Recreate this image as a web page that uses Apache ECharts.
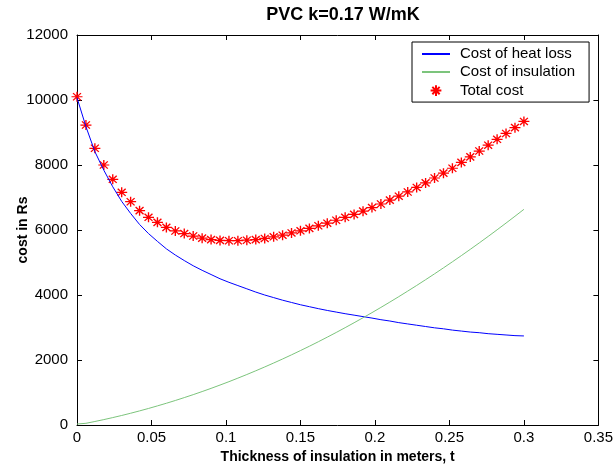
<!DOCTYPE html>
<html>
<head>
<meta charset="utf-8">
<script src="https://cdn.jsdelivr.net/npm/echarts@6/dist/echarts.min.js"></script>
<style>
html,body{margin:0;padding:0;background:#fff;}
#c{width:616px;height:470px;}
</style>
</head>
<body>
<div id="c"></div>
<script>
var thickness = [0, 0.006, 0.012, 0.018, 0.024, 0.03, 0.036, 0.042, 0.048, 0.054, 0.06, 0.066, 0.072, 0.078, 0.084, 0.09, 0.096, 0.102, 0.108, 0.114, 0.12, 0.126, 0.132, 0.138, 0.144, 0.15, 0.156, 0.162, 0.168, 0.174, 0.18, 0.186, 0.192, 0.198, 0.204, 0.21, 0.216, 0.222, 0.228, 0.234, 0.24, 0.246, 0.252, 0.258, 0.264, 0.27, 0.276, 0.282, 0.288, 0.294, 0.3];
var heatLoss = [10070, 9180, 8410, 7840, 7330, 6880, 6510, 6170, 5890, 5650, 5420, 5230, 5060, 4900, 4760, 4630, 4500, 4390, 4290, 4190, 4090, 4000, 3920, 3840, 3770, 3700, 3640, 3580, 3525, 3475, 3425, 3380, 3335, 3290, 3240, 3200, 3150, 3110, 3070, 3030, 2990, 2960, 2920, 2890, 2860, 2840, 2810, 2790, 2770, 2750, 2740];
var insulation = [30, 52, 108, 166, 228, 293, 362, 434, 509, 588, 669, 754, 843, 934, 1029, 1127, 1229, 1333, 1442, 1553, 1668, 1786, 1907, 2031, 2159, 2290, 2424, 2562, 2703, 2847, 2995, 3146, 3300, 3457, 3618, 3782, 3949, 4120, 4293, 4471, 4651, 4835, 5022, 5212, 5405, 5602, 5802, 6006, 6213, 6423, 6636];
var totalCost = [10100, 9230, 8515, 8000, 7560, 7160, 6870, 6595, 6390, 6235, 6080, 5970, 5890, 5815, 5750, 5705, 5680, 5670, 5670, 5685, 5705, 5740, 5790, 5840, 5910, 5975, 6050, 6130, 6210, 6300, 6390, 6480, 6580, 6690, 6800, 6920, 7040, 7170, 7310, 7450, 7600, 7750, 7900, 8080, 8250, 8430, 8610, 8790, 8970, 9150, 9340];
var xTicks = [0, 0.05, 0.1, 0.15, 0.2, 0.25, 0.3, 0.35];
var yTicks = [0, 2000, 4000, 6000, 8000, 10000, 12000];
var seriesNames = ['Cost of heat loss', 'Cost of insulation', 'Total cost'];

function pairs(xs, ys) { return xs.map(function (x, i) { return [x, ys[i]]; }); }
var FONT = '"Liberation Sans", Arial, sans-serif';
var star = 'path://M5,0L5,10M0,5L10,5M1.4,1.4L8.6,8.6M1.4,8.6L8.6,1.4';
var starLegend = 'path://M-8,-2L-8,-2M18,12L18,12M5,0L5,10M0,5L10,5M1.6,1.6L8.4,8.4M1.6,8.4L8.4,1.6';

var chart = echarts.init(document.getElementById('c'), null, {renderer: 'canvas'});
var axisCommon = {
  type: 'value',
  axisLine: {show: true, onZero: false, lineStyle: {color: '#000', width: 1}},
  axisTick: {show: true, inside: true, length: 5, lineStyle: {color: '#000'}},
  splitLine: {show: false}
};
chart.setOption({
  animation: false,
  backgroundColor: '#fff',
  title: {
    text: 'PVC k=0.17 W/mK',
    left: 338, top: 1, textAlign: 'center',
    textStyle: {fontFamily: FONT, fontWeight: 'bold', fontSize: 18, color: '#000'}
  },
  legend: {
    orient: 'vertical',
    left: 412, top: 42,
    padding: [4, 14, 3, 9],
    itemWidth: 28, itemHeight: 16, itemGap: 2,
    backgroundColor: '#fff',
    borderColor: '#000', borderWidth: 1, borderRadius: 0,
    data: [
      {name: seriesNames[0], itemStyle: {opacity: 0}},
      {name: seriesNames[1], itemStyle: {opacity: 0}},
      {name: seriesNames[2], icon: starLegend}
    ],
    textStyle: {fontFamily: FONT, fontSize: 15, color: '#000', lineHeight: 16, padding: [0, 0, 0, 5]}
  },
  grid: {left: 77, right: 17, top: 35, bottom: 45, containLabel: false},
  xAxis: [
    Object.assign({}, axisCommon, {
      position: 'bottom', min: xTicks[0], max: xTicks[xTicks.length - 1], interval: 0.05,
      name: 'Thickness of insulation in meters, t', nameLocation: 'middle', nameGap: 25,
      nameMoveOverlap: false,
      nameTextStyle: {fontFamily: FONT, fontWeight: 'bold', fontSize: 14, color: '#000'},
      axisLabel: {fontFamily: FONT, fontSize: 15, color: '#000', margin: 5,
        formatter: function (v) { return String(+v.toFixed(2)); }}
    }),
    Object.assign({}, axisCommon, {
      position: 'top', min: xTicks[0], max: xTicks[xTicks.length - 1], interval: 0.05,
      axisLabel: {show: false}
    })
  ],
  yAxis: [
    Object.assign({}, axisCommon, {
      position: 'left', min: yTicks[0], max: yTicks[yTicks.length - 1], interval: 2000,
      name: 'cost in Rs', nameLocation: 'middle', nameGap: 47,
      nameMoveOverlap: false,
      nameTextStyle: {fontFamily: FONT, fontWeight: 'bold', fontSize: 14, color: '#000'},
      axisLabel: {fontFamily: FONT, fontSize: 15, color: '#000', margin: 9,
        formatter: function (v) { return String(v); }}
    }),
    Object.assign({}, axisCommon, {
      position: 'right', min: yTicks[0], max: yTicks[yTicks.length - 1], interval: 2000,
      axisLabel: {show: false}
    })
  ],
  series: [
    {
      name: seriesNames[0], type: 'line', data: pairs(thickness, heatLoss),
      showSymbol: false, symbol: 'none', lineStyle: {color: '#0000ff', width: 1}, itemStyle: {color: '#0000ff'}
    },
    {
      name: seriesNames[1], type: 'line', data: pairs(thickness, insulation),
      showSymbol: false, symbol: 'none', lineStyle: {color: '#7cc47c', width: 1}, itemStyle: {color: '#7cc47c'}
    },
    {
      name: seriesNames[2], type: 'scatter', data: pairs(thickness, totalCost),
      symbol: star, symbolSize: [11, 10],
      itemStyle: {color: '#ff0000', borderColor: '#ff0000', borderWidth: 1.3, opacity: 1}
    }
  ]
});
</script>
</body>
</html>
